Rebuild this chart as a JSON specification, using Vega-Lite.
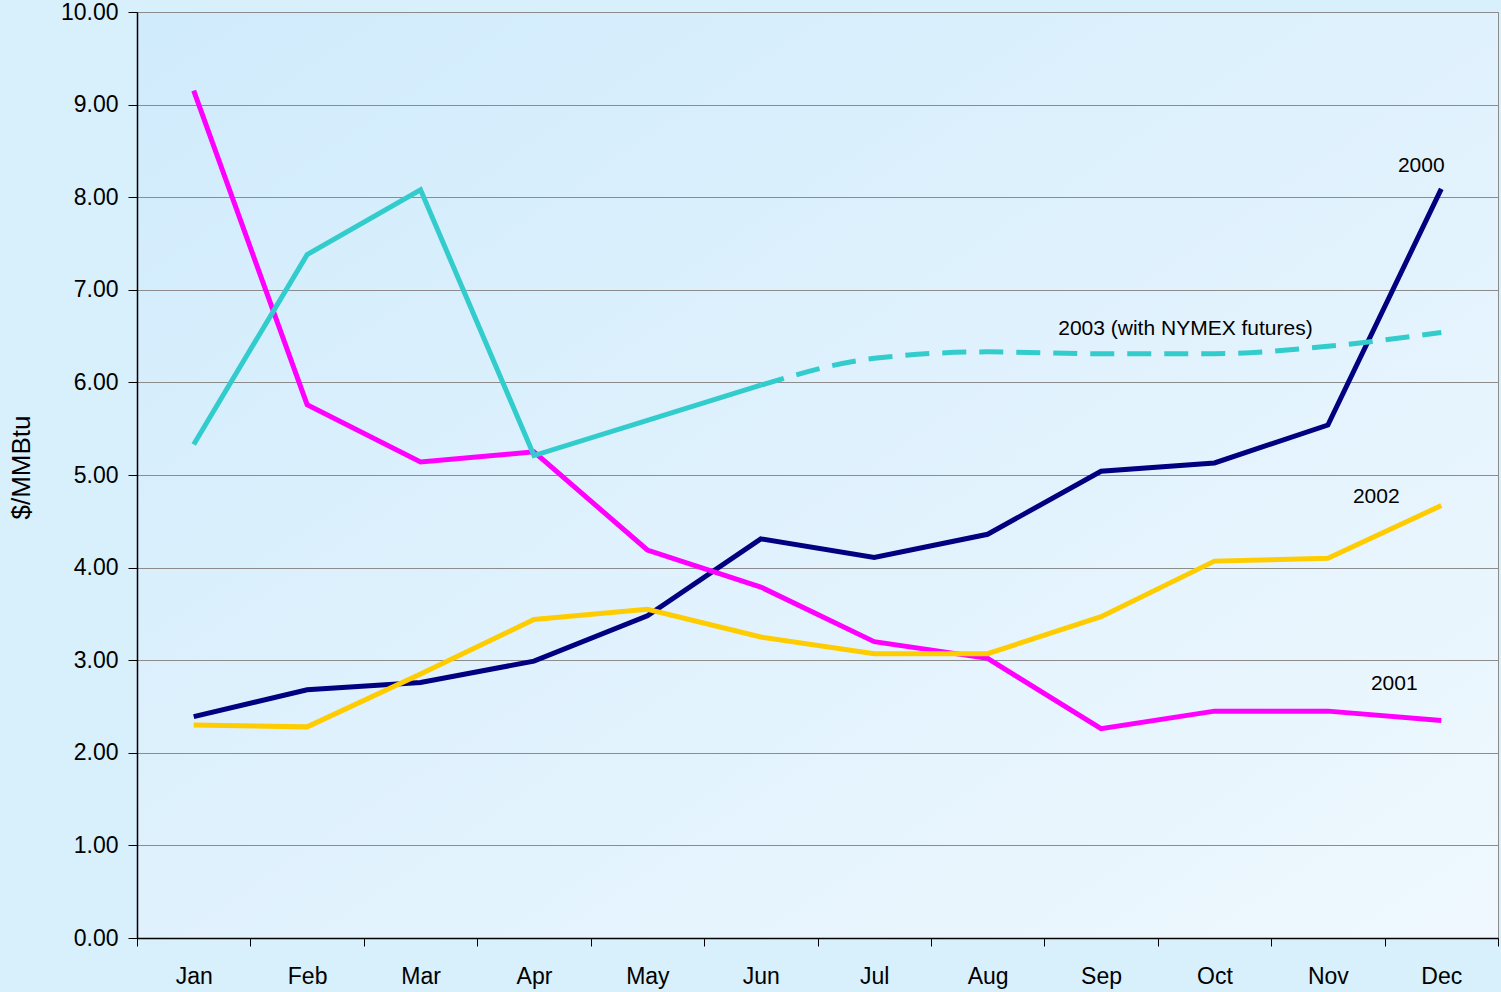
{
  "$schema": "https://vega.github.io/schema/vega-lite/v6.json",
  "width": 1361,
  "height": 926,
  "autosize": {"type": "none"},
  "padding": {"left": 137, "top": 12, "right": 3, "bottom": 54},
  "background": "#d8effc",
  "config": {
    "font": "Liberation Sans",
    "view": {
      "stroke": "#8c8c8c",
      "strokeWidth": 1,
      "fill": {
        "gradient": "linear",
        "x1": 0, "y1": 0, "x2": 1, "y2": 1,
        "stops": [
          {"offset": 0, "color": "#d0ebfc"},
          {"offset": 1, "color": "#eff8fe"}
        ]
      }
    },
    "axis": {
      "labelFont": "Liberation Sans",
      "labelColor": "#000000",
      "titleFont": "Liberation Sans",
      "titleColor": "#000000",
      "titleFontWeight": "normal",
      "domainColor": "#000000",
      "tickColor": "#000000",
      "gridColor": "#8c8c8c",
      "gridWidth": 1
    }
  },
  "datasets": {
    "prices": [
      {"month": "Jan", "series": "2000", "value": 2.39},
      {"month": "Feb", "series": "2000", "value": 2.68},
      {"month": "Mar", "series": "2000", "value": 2.76},
      {"month": "Apr", "series": "2000", "value": 2.99},
      {"month": "May", "series": "2000", "value": 3.48},
      {"month": "Jun", "series": "2000", "value": 4.31},
      {"month": "Jul", "series": "2000", "value": 4.11},
      {"month": "Aug", "series": "2000", "value": 4.36},
      {"month": "Sep", "series": "2000", "value": 5.04},
      {"month": "Oct", "series": "2000", "value": 5.13},
      {"month": "Nov", "series": "2000", "value": 5.54},
      {"month": "Dec", "series": "2000", "value": 8.09},
      {"month": "Jan", "series": "2001", "value": 9.15},
      {"month": "Feb", "series": "2001", "value": 5.76},
      {"month": "Mar", "series": "2001", "value": 5.14},
      {"month": "Apr", "series": "2001", "value": 5.25},
      {"month": "May", "series": "2001", "value": 4.19},
      {"month": "Jun", "series": "2001", "value": 3.79},
      {"month": "Jul", "series": "2001", "value": 3.2},
      {"month": "Aug", "series": "2001", "value": 3.02},
      {"month": "Sep", "series": "2001", "value": 2.26},
      {"month": "Oct", "series": "2001", "value": 2.45},
      {"month": "Nov", "series": "2001", "value": 2.45},
      {"month": "Dec", "series": "2001", "value": 2.35},
      {"month": "Jan", "series": "2002", "value": 2.3},
      {"month": "Feb", "series": "2002", "value": 2.28},
      {"month": "Mar", "series": "2002", "value": 2.85},
      {"month": "Apr", "series": "2002", "value": 3.44},
      {"month": "May", "series": "2002", "value": 3.55},
      {"month": "Jun", "series": "2002", "value": 3.25},
      {"month": "Jul", "series": "2002", "value": 3.07},
      {"month": "Aug", "series": "2002", "value": 3.07},
      {"month": "Sep", "series": "2002", "value": 3.47},
      {"month": "Oct", "series": "2002", "value": 4.07},
      {"month": "Nov", "series": "2002", "value": 4.1},
      {"month": "Dec", "series": "2002", "value": 4.67},
      {"month": "Jan", "series": "2003", "value": 5.33},
      {"month": "Feb", "series": "2003", "value": 7.38},
      {"month": "Mar", "series": "2003", "value": 8.08},
      {"month": "Apr", "series": "2003", "value": 5.21},
      {"month": "May", "series": "2003", "value": 5.59},
      {"month": "Jun", "series": "2003", "value": 5.97}
    ],
    "futures": [
      {"month": "Jun", "series": "2003", "value": 5.97},
      {"month": "Jul", "series": "2003", "value": 6.26},
      {"month": "Aug", "series": "2003", "value": 6.33},
      {"month": "Sep", "series": "2003", "value": 6.31},
      {"month": "Oct", "series": "2003", "value": 6.31},
      {"month": "Nov", "series": "2003", "value": 6.39},
      {"month": "Dec", "series": "2003", "value": 6.54}
    ]
  },
  "encoding": {
    "x": {
      "field": "month",
      "type": "ordinal",
      "bandPosition": 0.5,
      "sort": ["Jan","Feb","Mar","Apr","May","Jun","Jul","Aug","Sep","Oct","Nov","Dec"],
      "scale": {
        "type": "band",
        "domain": ["Jan","Feb","Mar","Apr","May","Jun","Jul","Aug","Sep","Oct","Nov","Dec"],
        "paddingInner": 0,
        "paddingOuter": 0
      },
      "axis": {
        "title": null,
        "labelAngle": 0,
        "labelFontSize": 23,
        "tickBand": "extent",
        "tickSize": 8,
        "labelPadding": 19,
        "grid": false,
        "domainWidth": 1.5
      }
    },
    "y": {
      "field": "value",
      "type": "quantitative",
      "scale": {"domain": [0, 10], "nice": false, "zero": true},
      "axis": {
        "title": "$/MMBtu",
        "titleFontSize": 26,
        "titlePadding": 26,
        "titleY": 455,
        "values": [0,1,2,3,4,5,6,7,8,9,10],
        "format": ".2f",
        "labelFontSize": 23,
        "tickSize": 9,
        "labelPadding": 10,
        "grid": true,
        "domainWidth": 1.5
      }
    }
  },
  "layer": [
    {
      "data": {"name": "prices"},
      "mark": {"type": "line", "strokeWidth": 5, "strokeJoin": "miter", "strokeCap": "butt"},
      "encoding": {
        "color": {
          "field": "series",
          "type": "nominal",
          "scale": {
            "domain": ["2000", "2001", "2002", "2003"],
            "range": ["#000080", "#ff00ff", "#ffcc00", "#33cccc"]
          },
          "legend": null
        },
        "order": {"field": "series"}
      }
    },
    {
      "data": {"name": "futures"},
      "mark": {"type": "line", "strokeWidth": 5, "strokeDash": [24, 13], "interpolate": "monotone", "color": "#33cccc", "strokeCap": "butt"},
      "encoding": {}
    },
    {
      "data": {"values": [{"label": "2000", "month": "Dec", "value": 8.34}]},
      "mark": {"type": "text", "fontSize": 21, "align": "center", "baseline": "middle", "dx": -20, "color": "#000000"},
      "encoding": {"text": {"field": "label"}}
    },
    {
      "data": {"values": [{"label": "2002", "month": "Dec", "value": 4.76}]},
      "mark": {"type": "text", "fontSize": 21, "align": "center", "baseline": "middle", "dx": -65, "color": "#000000"},
      "encoding": {"text": {"field": "label"}}
    },
    {
      "data": {"values": [{"label": "2001", "month": "Dec", "value": 2.74}]},
      "mark": {"type": "text", "fontSize": 21, "align": "center", "baseline": "middle", "dx": -47, "color": "#000000"},
      "encoding": {"text": {"field": "label"}}
    },
    {
      "data": {"values": [{"label": "2003 (with NYMEX futures)", "month": "Oct", "value": 6.58}]},
      "mark": {"type": "text", "fontSize": 21, "align": "center", "baseline": "middle", "dx": -29, "color": "#000000"},
      "encoding": {"text": {"field": "label"}}
    }
  ]
}
